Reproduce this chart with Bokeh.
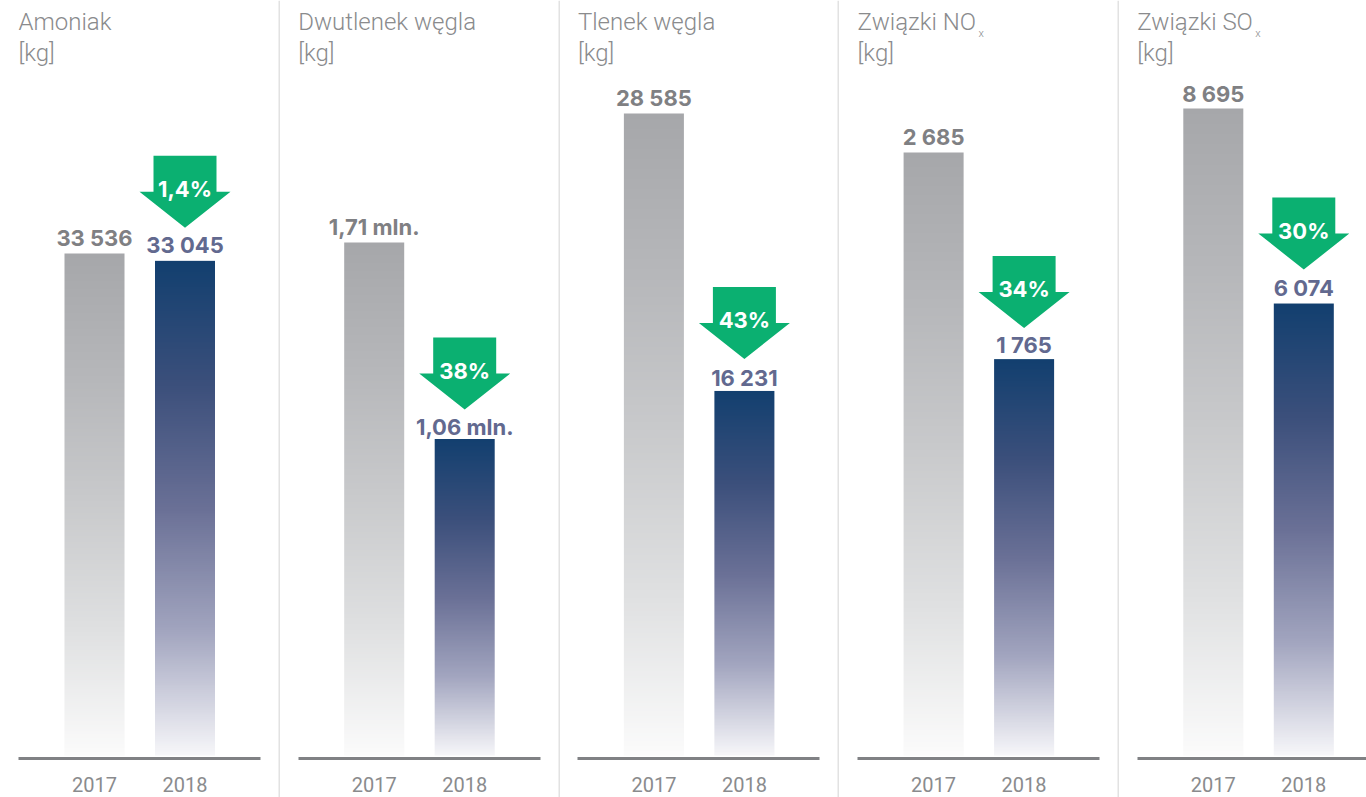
import numpy as np
from bokeh.embed import file_html
from bokeh.resources import INLINE
from bokeh.layouts import row
from bokeh.plotting import figure
from bokeh.models import Range1d, FixedTicker, Span, LinearColorMapper
from bokeh.core.properties import value

# ---- data ----
titles = ["Amoniak", "Dwutlenek węgla", "Tlenek węgla", "Związki NO", "Związki SO"]
subscripts = ["", "", "", "x", "x"]
unit = "[kg]"
years = ["2017", "2018"]
values_2017 = [33536, 1710000, 28585, 2685, 8695]
values_2018 = [33045, 1055000, 16231, 1765, 6074]
labels_2017 = ["33 536", "1,71 mln.", "28 585", "2 685", "8 695"]
labels_2018 = ["33 045", "1,06 mln.", "16 231", "1 765", "6 074"]
changes = ["1,4%", "38%", "43%", "34%", "30%"]
# pixels per kilogram for each panel
scales = [502 / 33536, 513 / 1710000, 642 / 28585, 603 / 2685, 647 / 8695]

GREY = "#7f8083"
TITLE_GREY = "#8a8b8d"
BLUE_TXT = "#62698f"
GREEN = "#0bb071"
SEP = "#e2e2e2"
FONT = "Inter"
TITLE_FONT = "Roboto Light"

grey_stops = ["#a6a7aa", "#b6b7ba", "#c9cacc", "#dfe0e1", "#fbfbfb"]
blue_stops = ["#123f6f", "#3b4f7b", "#6a7096", "#a2a5bf", "#f6f6f9"]


def ramp(stops, n=256):
    rgb = np.array([[int(s[i:i + 2], 16) for i in (1, 3, 5)] for s in stops], float)
    t = np.linspace(0, len(stops) - 1, n)
    out = np.stack([np.interp(t, np.arange(len(stops)), rgb[:, c]) for c in range(3)], 1)
    return ["#%02x%02x%02x" % tuple(int(round(v)) for v in c) for c in out]


# ---- layout (pixels) ----
edges = [0, 278, 558, 837, 1117, 1366]
offsets = [0, 279.7, 559.4, 839.1, 1118.8]
sub_x = [0, 0, 0, 139, 136]
gap_2017 = [16, 16, 16, 16, 15]
gap_2018 = [16, 12.5, 13, 14, 16]
arrow_gap = [105, 101.5, 104, 103, 106]
PAGE_TOP = 0
HEIGHT = 797
BASE_Y = 755      # page y of value 0
AXIS_Y = 758

figs = []
for i in range(5):
    x0, x1 = edges[i], edges[i + 1]
    k = scales[i]
    ox = offsets[i]

    p = figure(width=x1 - x0, height=HEIGHT, output_backend="svg", toolbar_location=None,
               x_range=Range1d(x0 - ox, x1 - ox),
               y_range=Range1d((PAGE_TOP + HEIGHT - BASE_Y) / -k, (BASE_Y - PAGE_TOP) / k),
               min_border=0, outline_line_color=None, background_fill_color="white",
               x_axis_location="below", y_axis_location=None)
    p.grid.visible = False

    def py(page_y):
        return (BASE_Y - page_y) / k

    c17, c18 = 94.0, 184.5
    w = 60
    v17, v18 = values_2017[i], values_2018[i]

    for cx, v, stops in ((c17, v17, grey_stops), (c18, v18, blue_stops)):
        img = np.linspace(0, 1, 256).reshape(-1, 1)
        mapper = LinearColorMapper(palette=ramp(stops)[::-1], low=0, high=1)
        p.image(image=[img], x=cx - w / 2, y=0, dw=w, dh=v, color_mapper=mapper)

    ax = p.xaxis[0]
    ax.fixed_location = py(AXIS_Y)
    ax.bounds = (18, 260)
    ax.ticker = FixedTicker(ticks=[c17, c18])
    ax.major_label_overrides = {c17: years[0], c18: years[1]}
    ax.axis_line_color = "#808184"
    ax.axis_line_width = 3
    ax.major_tick_line_color = None
    ax.minor_tick_line_color = None
    ax.major_label_standoff = 12
    ax.major_label_text_font = "Roboto"
    ax.major_label_text_font_size = "20px"
    ax.major_label_text_color = TITLE_GREY

    if i > 0:
        p.add_layout(Span(location=x0 - ox + 0.5, dimension="height", line_color=SEP, line_width=2))

    p.text([18], [py(21)], text=[titles[i]], text_font=value(TITLE_FONT), text_font_size="24px",
           text_color=TITLE_GREY, text_baseline="middle", text_align="left")
    p.text([18], [py(52)], text=[unit], text_font=value(TITLE_FONT), text_font_size="24px",
           text_color=TITLE_GREY, text_baseline="middle", text_align="left")
    if subscripts[i]:
        p.text([sub_x[i]], [py(33)], text=[subscripts[i]], text_font=value(TITLE_FONT), text_font_size="11px",
               text_color=TITLE_GREY, text_baseline="middle", text_align="left")

    p.text([c17], [v17 + gap_2017[i] / k], text=[labels_2017[i]], text_font=value(FONT), text_font_size="22px",
           text_font_style="bold", text_color=GREY, text_baseline="middle", text_align="center")
    p.text([c18], [v18 + gap_2018[i] / k], text=[labels_2018[i]], text_font=value(FONT), text_font_size="22px",
           text_font_style="bold", text_color=BLUE_TXT, text_baseline="middle", text_align="center")

    top = arrow_gap[i]
    ys = [top, top, top - 36, top - 36, top - 72, top - 36, top - 36]
    xs = [-31.5, 31.5, 31.5, 45.5, 0, -45.5, -31.5]
    p.patch([c18 + d for d in xs], [v18 + d / k for d in ys], fill_color=GREEN, line_color=None)
    p.text([c18], [v18 + (top - 33) / k], text=[changes[i]], text_font=value(FONT), text_font_size="22px",
           text_font_style="bold", text_color="white", text_baseline="middle", text_align="center")
    figs.append(p)

layout = row(*figs, spacing=0)
open("out.html", "w").write(file_html(layout, INLINE))
